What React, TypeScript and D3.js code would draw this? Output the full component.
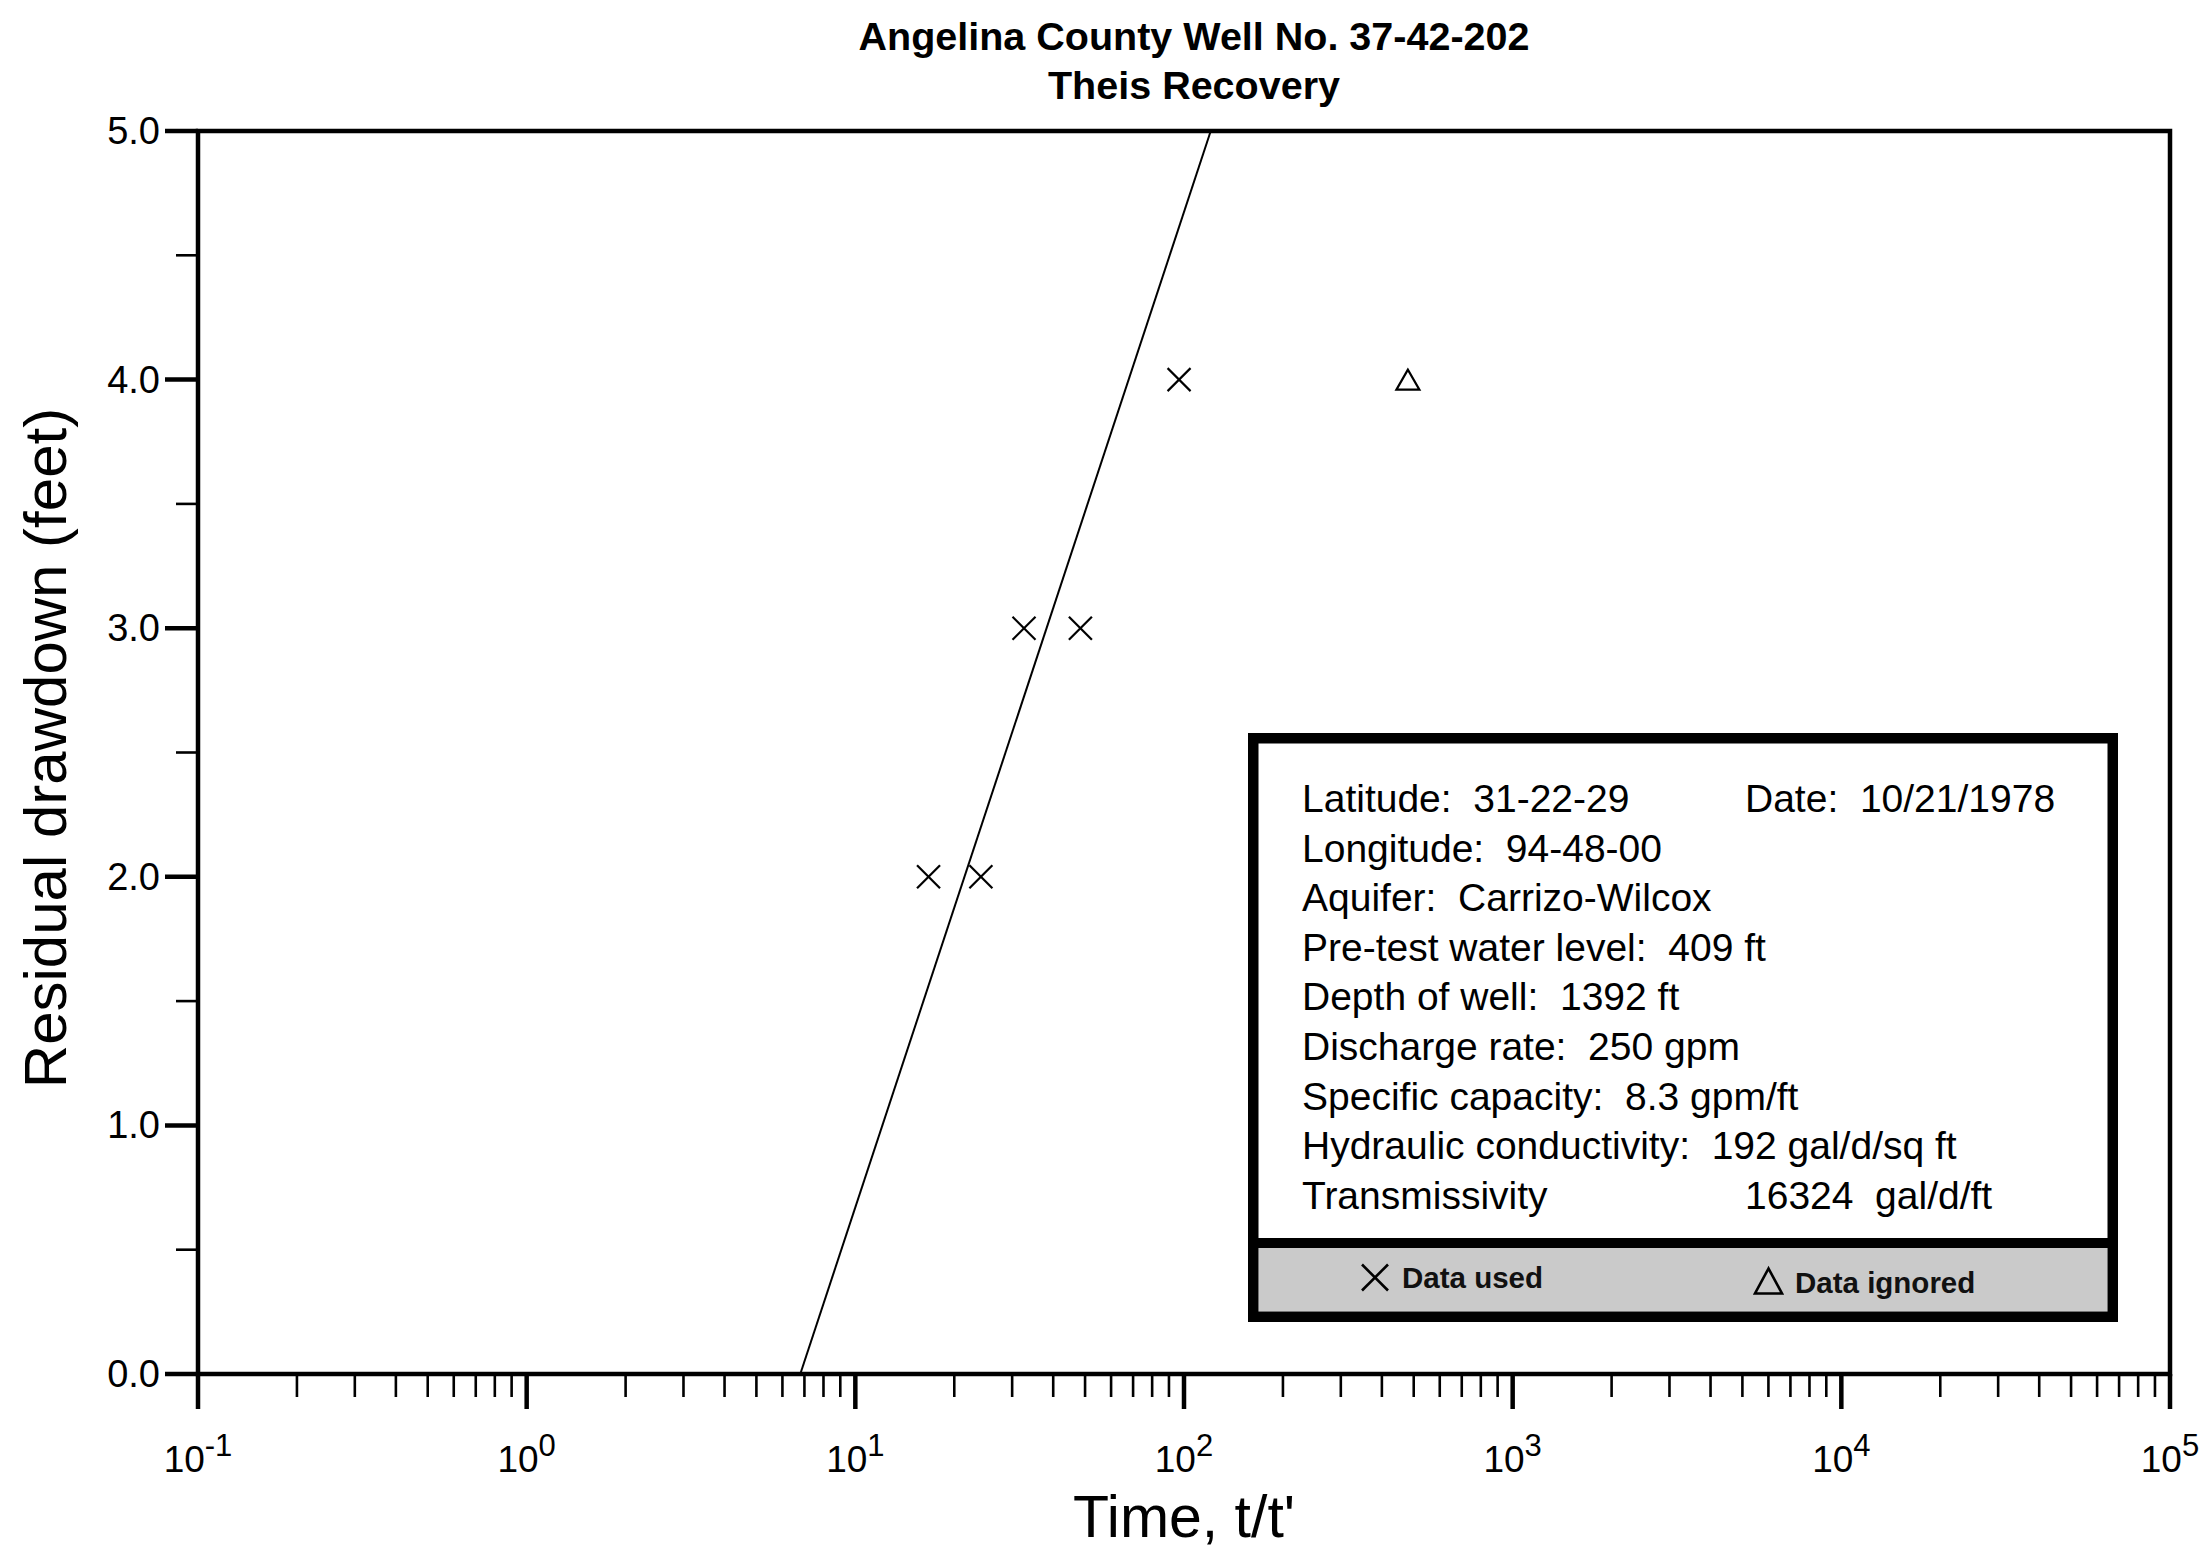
import React from "react";
import * as d3 from "d3";

// ---- data ----
const titleLines = ["Angelina County Well No. 37-42-202", "Theis Recovery"];
const xAxisTitle = "Time, t/t'";
const yAxisTitle = "Residual drawdown (feet)";

const xDecades = [0.1, 1, 10, 100, 1000, 10000, 100000];
const xDecadeExponents = ["-1", "0", "1", "2", "3", "4", "5"];
const yMajorTicks = [0, 1, 2, 3, 4, 5];
const yMajorLabels = ["0.0", "1.0", "2.0", "3.0", "4.0", "5.0"];
const yMinorTicks = [0.5, 1.5, 2.5, 3.5, 4.5];

const usedTime = [16.7, 24.1, 32.6, 48.4, 96.6];
const usedDrawdown = [2, 2, 3, 3, 4];
const ignoredTime = [480];
const ignoredDrawdown = [4];

const fitTime = [6.8, 120.6];
const fitDrawdown = [0, 5];

const infoLeft = [
  "Latitude:  31-22-29",
  "Longitude:  94-48-00",
  "Aquifer:  Carrizo-Wilcox",
  "Pre-test water level:  409 ft",
  "Depth of well:  1392 ft",
  "Discharge rate:  250 gpm",
  "Specific capacity:  8.3 gpm/ft",
  "Hydraulic conductivity:  192 gal/d/sq ft",
  "Transmissivity",
];
const infoRight = ["Date:  10/21/1978", "", "", "", "", "", "", "", "16324  gal/d/ft"];
const legendUsed = "Data used";
const legendIgnored = "Data ignored";

// ---- layout ----
const W = 2205;
const H = 1551;
const L = 198, R = 2170, T = 131, B = 1374;
const FONT = "'Liberation Sans', Arial, Helvetica, sans-serif";

export default function App() {
  const x = d3.scaleLog().domain([0.1, 100000]).range([L, R]);
  const y = d3.scaleLinear().domain([0, 5]).range([B, T]);

  const xMinor: number[] = [];
  xDecades.slice(0, -1).forEach((d) => {
    for (let k = 2; k <= 9; k++) xMinor.push(d * k);
  });

  const fitLine = d3
    .line<number>()
    .x((_, i) => x(fitTime[i]))
    .y((_, i) => y(fitDrawdown[i]));

  const xMark = (cx: number, cy: number, h: number, sw: number, key: string) => (
    <g key={key} stroke="#000" strokeWidth={sw} fill="none">
      <line x1={cx - h} y1={cy - h} x2={cx + h} y2={cy + h} />
      <line x1={cx - h} y1={cy + h} x2={cx + h} y2={cy - h} />
    </g>
  );
  const triMark = (cx: number, cy: number, w: number, h: number, sw: number, key: string) => (
    <polygon
      key={key}
      points={`${cx},${cy - h / 2} ${cx - w / 2},${cy + h / 2} ${cx + w / 2},${cy + h / 2}`}
      fill="none"
      stroke="#000"
      strokeWidth={sw}
      strokeLinejoin="miter"
    />
  );

  // info box geometry
  const bx = 1248, by = 733, bw = 870, bh = 589, bs = 10.5;
  const divY = 1243;
  const lineStep = 49.6;
  const firstBaseline = 812;

  return (
    <svg
      width={W}
      height={H}
      viewBox={`0 0 ${W} ${H}`}
      style={{ position: "absolute", left: 0, top: 0, background: "#fff" }}
      fontFamily={FONT}
    >
      <rect x={0} y={0} width={W} height={H} fill="#fff" />

      {/* title */}
      {titleLines.map((t, i) => (
        <text
          key={t}
          x={1194}
          y={50 + i * 48.5}
          textAnchor="middle"
          fontWeight="bold"
          fontSize={39.5}
          fill="#000"
        >
          {t}
        </text>
      ))}

      {/* fit line */}
      <path d={fitLine(fitTime) || ""} fill="none" stroke="#000" strokeWidth={2} />

      {/* frame */}
      <rect x={L} y={T} width={R - L} height={B - T} fill="none" stroke="#000" strokeWidth={4.5} />

      {/* x ticks */}
      {xDecades.map((d) => (
        <line key={"xM" + d} x1={x(d)} x2={x(d)} y1={B} y2={B + 35} stroke="#000" strokeWidth={4.5} />
      ))}
      {xMinor.map((d) => (
        <line key={"xm" + d} x1={x(d)} x2={x(d)} y1={B} y2={B + 23} stroke="#000" strokeWidth={2.6} />
      ))}
      {xDecades.map((d, i) => (
        <text key={"xl" + d} x={x(d)} y={1472} textAnchor="middle" fontSize={37} fill="#000">
          10
          <tspan dy={-16} fontSize={31}>
            {xDecadeExponents[i]}
          </tspan>
        </text>
      ))}

      {/* y ticks */}
      {yMajorTicks.map((v) => (
        <line key={"yM" + v} x1={L - 33} x2={L} y1={y(v)} y2={y(v)} stroke="#000" strokeWidth={4.5} />
      ))}
      {yMinorTicks.map((v) => (
        <line key={"ym" + v} x1={L - 22} x2={L} y1={y(v)} y2={y(v)} stroke="#000" strokeWidth={2.6} />
      ))}
      {yMajorTicks.map((v, i) => (
        <text
          key={"yl" + v}
          x={160}
          y={y(v)}
          textAnchor="end"
          dominantBaseline="central"
          fontSize={38}
          fill="#000"
        >
          {yMajorLabels[i]}
        </text>
      ))}

      {/* axis titles */}
      <text x={1184} y={1537} textAnchor="middle" fontSize={59} fill="#000">
        {xAxisTitle}
      </text>
      <text
        transform={`translate(66, 748) rotate(-90)`}
        textAnchor="middle"
        fontSize={60}
        fill="#000"
      >
        {yAxisTitle}
      </text>

      {/* data */}
      {usedTime.map((t, i) => xMark(x(t), y(usedDrawdown[i]), 11.5, 2.2, "u" + i))}
      {ignoredTime.map((t, i) => triMark(x(t), y(ignoredDrawdown[i]), 23, 20, 2.2, "g" + i))}

      {/* info box */}
      <rect x={bx} y={by} width={bw} height={bh} fill="#fff" />
      <rect x={bx + bs} y={divY} width={bw - 2 * bs} height={by + bh - bs - divY} fill="#cacaca" />
      <line x1={bx} x2={bx + bw} y1={divY} y2={divY} stroke="#000" strokeWidth={10} />
      <rect
        x={bx + bs / 2}
        y={by + bs / 2}
        width={bw - bs}
        height={bh - bs}
        fill="none"
        stroke="#000"
        strokeWidth={bs}
      />
      {infoLeft.map((t, i) => (
        <text
          key={"il" + i}
          x={1302}
          y={firstBaseline + i * lineStep}
          fontSize={39}
          fill="#000"
          style={{ whiteSpace: "pre" }}
        >
          {t}
        </text>
      ))}
      {infoRight.map((t, i) =>
        t ? (
          <text
            key={"ir" + i}
            x={1745}
            y={firstBaseline + i * lineStep}
            fontSize={39}
            fill="#000"
            style={{ whiteSpace: "pre" }}
          >
            {t}
          </text>
        ) : null
      )}

      {/* legend */}
      {xMark(1375, 1277.5, 13, 2.6, "legX")}
      <text x={1402} y={1288} fontSize={29.5} fontWeight="bold" fill="#111">
        {legendUsed}
      </text>
      {triMark(1768.5, 1281, 27, 25, 2.6, "legT")}
      <text x={1795} y={1293} fontSize={29.5} fontWeight="bold" fill="#111">
        {legendIgnored}
      </text>
    </svg>
  );
}
